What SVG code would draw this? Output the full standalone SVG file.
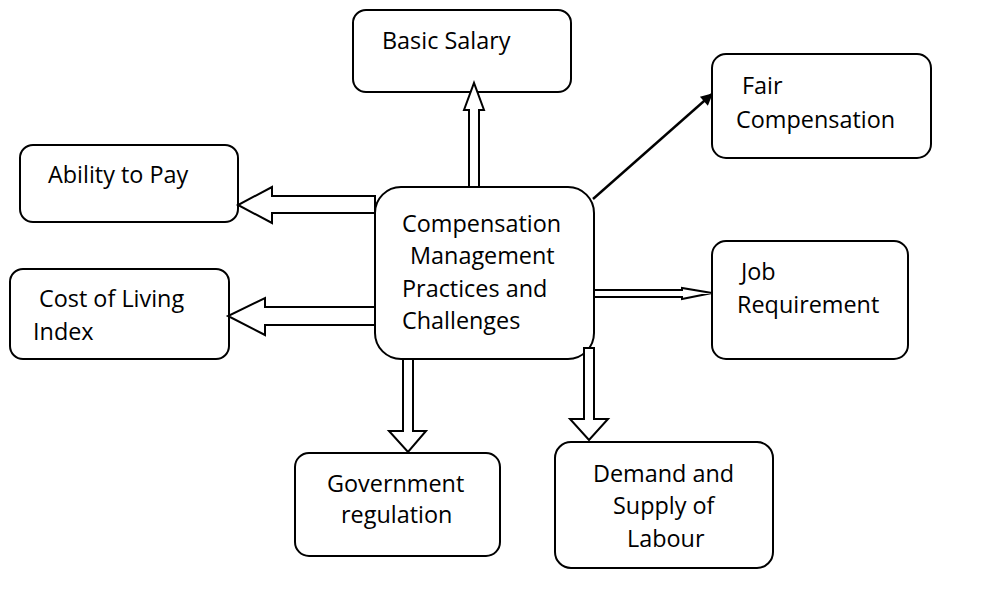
<svg xmlns="http://www.w3.org/2000/svg" width="983" height="591" viewBox="0 0 983 591">
<defs>
<style>
.box{fill:#fff;stroke:#000;stroke-width:2}
.t{font-family:"Open Sans","Liberation Sans",sans-serif;font-size:23.4px;fill:#000}
.ba{fill:#fff;stroke:#000;stroke-width:2;stroke-linejoin:miter}
.ln{stroke:#000;stroke-width:2.4;fill:none}
</style>
<marker id="ah" viewBox="0 0 10 10" refX="9" refY="5" markerWidth="15" markerHeight="12" markerUnits="userSpaceOnUse" orient="auto">
<path d="M0,0 L10,5 L0,10 z" fill="#000"/>
</marker>
</defs>
<rect width="983" height="591" fill="#fff"/>
<g id="center"><rect class="box" x="375" y="187" width="219" height="172" rx="26"/>
<text class="t" x="402" y="232">Compensation</text>
<text class="t" x="410" y="264">Management</text>
<text class="t" x="402" y="297">Practices and</text>
<text class="t" x="402" y="329">Challenges</text></g>
<g id="basic-salary"><rect class="box" x="353" y="10" width="218" height="82" rx="13"/>
<text class="t" x="382" y="49">Basic Salary</text></g>
<g id="fair-compensation"><rect class="box" x="712" y="54" width="219" height="104" rx="14"/>
<text class="t" x="742" y="94">Fair</text>
<text class="t" x="736" y="128">Compensation</text></g>
<g id="ability-to-pay"><rect class="box" x="20" y="145" width="218" height="77" rx="13"/>
<text class="t" x="48" y="183">Ability to Pay</text></g>
<g id="cost-of-living"><rect class="box" x="10" y="269" width="219" height="90" rx="13"/>
<text class="t" x="39" y="307">Cost of Living</text>
<text class="t" x="33" y="340">Index</text></g>
<g id="job-requirement"><rect class="box" x="712" y="241" width="196" height="118" rx="14"/>
<text class="t" x="741" y="280">Job</text>
<text class="t" x="737" y="313">Requirement</text></g>
<g id="government-regulation"><rect class="box" x="295" y="453" width="205" height="103" rx="14"/>
<text class="t" x="327" y="492">Government</text>
<text class="t" x="341" y="523">regulation</text></g>
<g id="demand-supply"><rect class="box" x="555" y="442" width="218" height="126" rx="16"/>
<text class="t" x="593" y="482">Demand and</text>
<text class="t" x="613" y="514">Supply of</text>
<text class="t" x="627" y="547">Labour</text></g>
<g id="connectors">
<polygon class="ba" points="469,187 469,110 464,110 474,83 484,110 479,110 479,187"/>
<polygon class="ba" points="375,196 272,196 272,187 238,205 272,223 272,213 375,213"/>
<polygon class="ba" points="375,307 265,307 265,298 228,316 265,335 265,325 375,325"/>
<polygon class="ba" points="403,359 403,431 389,431 408,452 426,431 413,431 413,359"/>
<polygon class="ba" points="584,348 584,419 570,419 589,440 608,419 594,419 594,348"/>
<polygon class="ba" points="594,290 682,290 682,288 712,293 682,299 682,297 594,297"/>
<line class="ln" x1="593" y1="199" x2="712" y2="94" marker-end="url(#ah)"/>
</g>
</svg>
